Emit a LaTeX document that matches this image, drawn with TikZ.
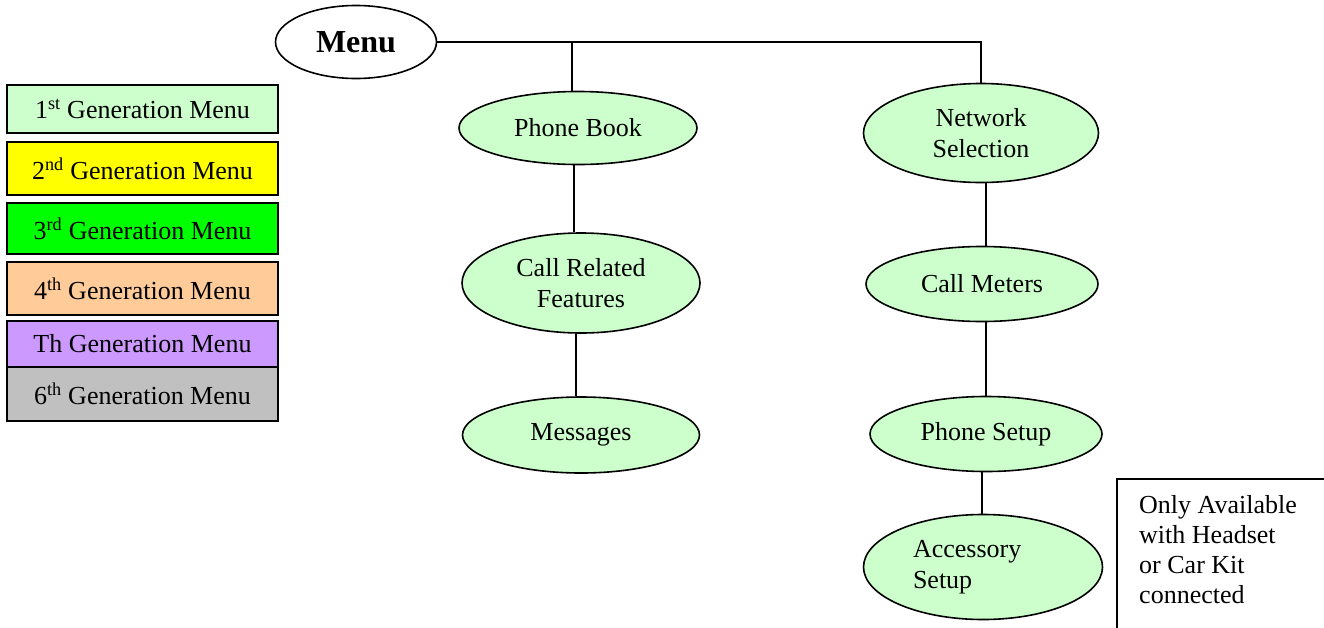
\documentclass[tikz,border=0pt]{standalone}
\usepackage{fontspec}
\setmainfont{Liberation Serif}
\usetikzlibrary{shapes.geometric}

\definecolor{genA}{HTML}{CCFFCC}
\definecolor{genB}{HTML}{FFFF00}
\definecolor{genC}{HTML}{00FF00}
\definecolor{genD}{HTML}{FFCC99}
\definecolor{genE}{HTML}{CC99FF}
\definecolor{genF}{HTML}{C0C0C0}

\begin{document}
\begin{tikzpicture}[x=1pt,y=-1pt,
  txt/.style={font=\fontsize{26}{31}\selectfont},
  menuitem/.style={ellipse, draw, line width=1.6pt, fill=genA, inner sep=0pt,
    align=center, txt},
  legendbox/.style={rectangle, draw, line width=2pt, inner sep=0pt,
    minimum width=271pt, txt},
  link/.style={line width=1.5pt}]

\useasboundingbox (0,0) rectangle (1324,627);

% root
\node[menuitem, fill=white, minimum width=161pt, minimum height=73pt,
  font=\fontsize{32}{38}\selectfont\bfseries] (menu) at (356,42) {Menu};

% left branch
\node[menuitem, minimum width=238pt, minimum height=73pt] (pb) at (578,128) {Phone Book};
\node[menuitem, minimum width=238pt, minimum height=100pt] (crf) at (581,283) {Call Related\\Features};
\node[menuitem, minimum width=237pt, minimum height=76pt] (msg) at (581,435) {Messages};

% right branch
\node[menuitem, minimum width=235pt, minimum height=99pt] (net) at (981,133) {Network\\Selection};
\node[menuitem, minimum width=232pt, minimum height=75pt] (cm) at (982,284) {Call Meters};
\node[menuitem, minimum width=232pt, minimum height=75pt] (ps) at (986,434) {Phone Setup};
\node[menuitem, minimum width=239pt, minimum height=105pt,
  text width=140pt, align=left] (acc) at (983,567) {Accessory\\Setup};

% connectors
\draw[link] (menu.east) -| (net.north);
\draw[link] ([xshift=-6pt]pb.north) -- ([xshift=-6pt]pb.north |- menu.east);
\draw[link] ([xshift=-4pt]pb.south) -- ([xshift=-4pt]pb.south |- crf.north);
\draw[link] ([xshift=-5pt]crf.south) -- ([xshift=-5pt]crf.south |- msg.north);
\draw[link] ([xshift=5pt]net.south) -- ([xshift=5pt]net.south |- cm.north);
\draw[link] ([xshift=4pt]cm.south) -- ([xshift=4pt]cm.south |- ps.north);
\draw[link] ([xshift=-4pt]ps.south) -- ([xshift=-4pt]ps.south |- acc.north);

% note
\node[anchor=base west, align=left, inner sep=0pt,
  font=\fontsize{26}{30}\selectfont] (note) at (1139,603)
  {Only Available\\with Headset\\or Car Kit\\connected};
\coordinate (noteA) at (1117,640);
\coordinate (noteB) at (1117,479);
\coordinate (noteC) at (1340,479);
\draw[line width=2pt] (noteA) -- (noteB) -- (noteC);

% legend
\node[legendbox, fill=genA, minimum height=48pt] (g1) at (142.5,109) {1\textsuperscript{st} Generation Menu};
\node[legendbox, fill=genB, minimum height=53pt] (g2) at (142.5,168.5) {2\textsuperscript{nd} Generation Menu};
\node[legendbox, fill=genC, minimum height=51pt] (g3) at (142.5,228.5) {3\textsuperscript{rd} Generation Menu};
\node[legendbox, fill=genD, minimum height=53pt] (g4) at (142.5,288.5) {4\textsuperscript{th} Generation Menu};
\node[legendbox, fill=genE, minimum height=46pt] (g5) at (142.5,344) {Th Generation Menu};
\node[legendbox, fill=genF, minimum height=54pt] (g6) at (142.5,394) {6\textsuperscript{th} Generation Menu};

\end{tikzpicture}
\end{document}
